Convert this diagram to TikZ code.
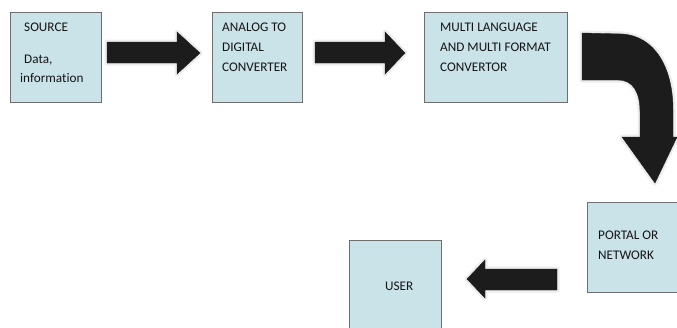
\documentclass[tikz,border=0pt]{standalone}
\usepackage{fontspec}
\setmainfont[Ligatures=NoCommon]{Carlito}
\definecolor{boxfill}{HTML}{CAE3E8}
\definecolor{boxline}{HTML}{6E6E6E}
\definecolor{arrowfill}{HTML}{1C1C1C}
\tikzset{
  block/.style={draw=boxline, line width=0.8pt, fill=boxfill, inner sep=0pt},
  lbl/.style={anchor=base west, inner sep=0pt, font=\fontsize{13.2}{15}\selectfont, text=black!92},
  blockarrow/.style={fill=arrowfill, draw=arrowfill, line width=0.4pt, line join=miter,
    preaction={draw=black!7, line width=5pt, line join=round}}
}
\begin{document}
\begin{tikzpicture}[x=1pt, y=-1pt]
\useasboundingbox (0,0) rectangle (677,327);

% boxes
\node[block, minimum width=91pt, minimum height=90pt] (source) at (55.5,57) {};
\node[block, minimum width=90pt, minimum height=90pt] (adc) at (257,57) {};
\node[block, minimum width=143pt, minimum height=90pt] (conv) at (495.5,57) {};
\node[block, minimum width=92pt, minimum height=90pt] (portal) at (633,247) {};
\draw[block] (349,328) -- (349,240) -- (441,240) -- (441,328);
\coordinate (user) at (395,284);

% labels
\node[lbl] (t1) at (24,31) {SOURCE};
\node[lbl] (t2) at (24,63) {Data,};
\node[lbl] (t3) at (20,82) {information};
\node[lbl] (t4) at (222,31) {ANALOG TO};
\node[lbl] (t5) at (222,51) {DIGITAL};
\node[lbl] (t6) at (222,71) {CONVERTER};
\node[lbl] (t7) at (440,31) {MULTI LANGUAGE};
\node[lbl] (t8) at (440,51) {AND MULTI FORMAT};
\node[lbl] (t9) at (440,71) {CONVERTOR};
\node[lbl] (t10) at (598,239) {PORTAL OR};
\node[lbl] (t11) at (598,259) {NETWORK};
\node[lbl] (t12) at (385,290) {USER};

% block arrows
\path[blockarrow] (107,42) -- (177,42) -- (177,32) -- (200,53) -- (177,74) -- (177,63) -- (107,63) -- cycle;
\path[blockarrow] (315,42) -- (385,42) -- (385,32) -- (405,53) -- (385,74) -- (385,63) -- (315,63) -- cycle;
\path[blockarrow] (582,33) -- (622,34)
  .. controls (655,36) and (673,68) .. (673,110) -- (673,137) -- (677,137)
  -- (655,183) -- (622,137) -- (640,137) -- (640,112)
  .. controls (640,92) and (633,80) .. (618,80) -- (582,80) -- cycle;
\path[blockarrow] (557,269) -- (485,269) -- (485,260) -- (467,279) -- (485,298) -- (485,290) -- (557,290) -- cycle;
\end{tikzpicture}
\end{document}
